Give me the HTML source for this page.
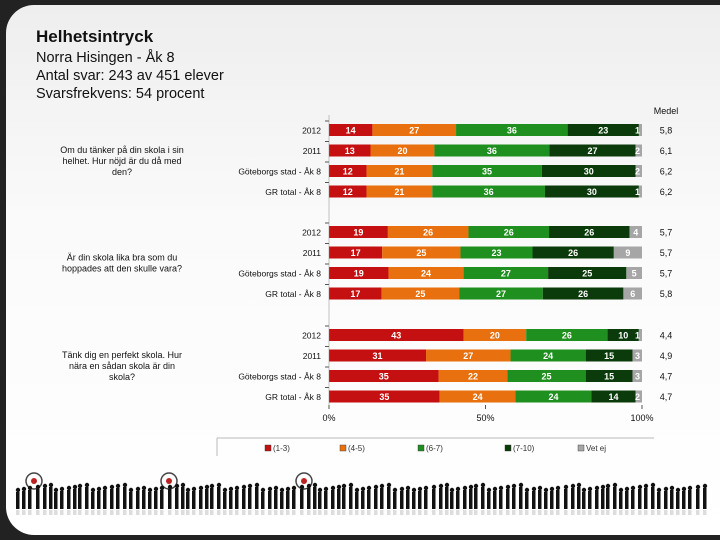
<!DOCTYPE html>
<html><head><meta charset="utf-8"><style>
body{margin:0;width:720px;height:540px;background:#222;overflow:hidden;font-family:"Liberation Sans",sans-serif}
#slide{position:absolute;left:6px;top:5px;width:714px;height:530px;border-radius:28px 0 0 28px;background:linear-gradient(#eeeeee,#fafafa 40%,#ffffff);overflow:hidden}
.t{position:absolute;color:#111;white-space:nowrap}
</style></head><body>
<div id="slide">
<div class="t" style="left:30px;top:22px;font-size:17px;font-weight:bold">Helhetsintryck</div>
<div class="t" style="left:30px;top:44px;font-size:14.5px;line-height:18px">Norra Hisingen - Åk 8<br>Antal svar: 243 av 451 elever<br>Svarsfrekvens: 54 procent</div>
</div>
<svg id="chart" width="720" height="540" style="position:absolute;left:0;top:0"></svg>
<script>
const questions=["Om du tänker på din skola i sin helhet. Hur nöjd är du då med den?","Är din skola lika bra som du hoppades att den skulle vara?","Tänk dig en perfekt skola. Hur nära en sådan skola är din skola?"];
const rowLabels=["2012","2011","Göteborgs stad - Åk 8","GR total - Åk 8"];
const categories=["(1-3)","(4-5)","(6-7)","(7-10)","Vet ej"];
const q1Values=[[14,27,36,23,1],[13,20,36,27,2],[12,21,35,30,2],[12,21,36,30,1]];
const q2Values=[[19,26,26,26,4],[17,25,23,26,9],[19,24,27,25,5],[17,25,27,26,6]];
const q3Values=[[43,20,26,10,1],[31,27,24,15,3],[35,22,25,15,3],[35,24,24,14,2]];
const medel=[["5,8","6,1","6,2","6,2"],["5,7","5,7","5,7","5,8"],["4,4","4,9","4,7","4,7"]];
const xTicks=[0,50,100];
const xTickLabels=["0%","50%","100%"];

const NS="http://www.w3.org/2000/svg";
const svg=document.getElementById('chart');
const colors=["#c41010","#e8700e","#1f8f1f","#0b3b0b","#a6a6a6"];
const x0=329,x1=642;
const xs=v=>x0+(x1-x0)*v/100;
const groupTop=[124,226,329],rowStep=[20.5,20.5,20.5];
function mk(tag,attrs){const e=document.createElementNS(NS,tag);for(const k in attrs)e.setAttribute(k,attrs[k]);svg.appendChild(e);return e;}
function txt(x,y,s,size,anchor,fill,weight){const e=mk('text',{x:x,y:y,'font-size':size,'text-anchor':anchor||'start',fill:fill||'#111','font-family':'Liberation Sans, sans-serif'});if(weight)e.setAttribute('font-weight',weight);e.textContent=s;return e;}
const tm=txt(666,114,"Medel",9,'middle');


const all=[q1Values,q2Values,q3Values];
const qLines=[["Om du tänker på din skola i sin","helhet. Hur nöjd är du då med","den?"],["Är din skola lika bra som du","hoppades att den skulle vara?"],["Tänk dig en perfekt skola. Hur","nära en sådan skola är din","skola?"]];
all.forEach((vals,g)=>{
  const midY=groupTop[g]+rowStep[g]*1.5+6;
  const lines=qLines[g];
  lines.forEach((l,i)=>{const t=txt(122,midY-(lines.length-1)*5.5+i*11+3,l,9,'middle');
    
    });
  vals.forEach((row,r)=>{
    const y=groupTop[g]+r*rowStep[g];
    const lab=txt(321,y+9.5,rowLabels[r],8.5,'end');
    
    
    mk('line',{x1:325,x2:329,y1:y-3,y2:y-3,stroke:'#555','stroke-width':1});
    let acc=0;
    const tot=row.reduce((a,b)=>a+b,0);
    row.forEach((v,c)=>{
      const a=acc*100/tot,b=(acc+v)*100/tot;acc+=v;
      const rc=mk('rect',{x:xs(a),y:y,width:xs(b)-xs(a),height:12,fill:colors[c]});
      
      
      const w=xs(b)-xs(a);
      const vt=txt(w<12?xs(b)-2:(xs(a)+xs(b))/2,y+9.5,String(v),9,w<12?'end':'middle','#fff','bold');
      
      
    });
    const mt=txt(666,y+9.5,medel[g][r],9,'middle');
    
    
  });
});
mk('line',{x1:329,x2:329,y1:115,y2:405,stroke:'#888','stroke-width':0.5});
xTicks.forEach((v,i)=>{
  mk('line',{x1:xs(v),x2:xs(v),y1:405,y2:409,stroke:'#555'});
  const t=txt(xs(v),421,xTickLabels[i],9,'middle');
  
  
});
mk('line',{x1:217,x2:654,y1:438,y2:438,stroke:'#bbb'});
mk('line',{x1:217,x2:217,y1:438,y2:456,stroke:'#bbb'});
const legX=[265,340,418,505,578];
categories.forEach((c,i)=>{
  const r=mk('rect',{x:legX[i],y:445,width:6,height:6,fill:colors[i],stroke:'#333','stroke-width':0.4});
  
  
  const t=txt(legX[i]+8,451,c,8,'start','#333');
  
  
});
// decorative silhouettes
for(let k=0;k<3;k++){const cx=34+k*135;mk('circle',{cx:cx,cy:481,r:8,fill:'none',stroke:'#444','stroke-width':1.5});mk('circle',{cx:cx,cy:481,r:3,fill:'#b22'});}
const pat=[0,6,12,20,27,33,38,44,51,57,62,69,75,81,87,94,100,107,113,120,126];
for(let rep=0;rep<6;rep++)pat.forEach((p,i)=>{const x=16+rep*132+p;if(x>705)return;const h=17+((i*7)%6);
  mk('circle',{cx:x+2,cy:509-h-2,r:2.2,fill:'#111'});
  mk('rect',{x:x,y:509-h,width:3.5,height:h,fill:'#111'});
  mk('rect',{x:x,y:510,width:3.5,height:5,fill:'#ddd'});});
</script>
</body></html>
